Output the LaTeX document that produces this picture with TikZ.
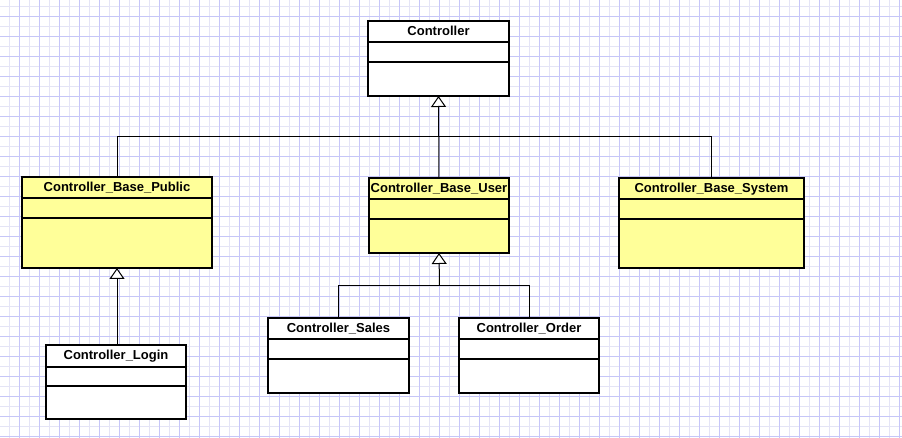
\documentclass[tikz,border=0pt]{standalone}
\usepackage{fontspec}
\setmainfont{Liberation Sans}
\usepackage{tikz}
\usetikzlibrary{arrows.meta}

\definecolor{gridlight}{RGB}{228,228,246}
\definecolor{griddark}{RGB}{198,198,248}
\definecolor{classyellow}{RGB}{255,255,153}

\begin{document}
\begin{tikzpicture}[
		x=1pt, y=1pt
		,thin grid/.style={gridlight, line width=1pt}
		,thick grid/.style={griddark, line width=1pt}
		,cls/.style={draw, line width=2pt, fill=white, anchor=north west, outer sep=0pt, inner sep=0pt}
		,yel/.style={fill=classyellow}
		,title/.style={anchor=base, yshift=-14.5pt, inner sep=0pt, font=\fontsize{13}{15}\selectfont\bfseries}
		,sep/.style={line width=2pt}
		,line/.style={line width=1pt}
		,gen/.style={line width=1pt, -{Triangle[length=11pt, width=15pt, fill=white]}}
	]
	\useasboundingbox (0,0) rectangle (902,-438);
	\fill[white] (0,0) rectangle (902,-438);
	% grid
	\foreach \x in {9.5,29.5,...,902} \draw[thin grid] (\x,0) -- (\x,-438);
	\foreach \y in {6.5,26.5,...,438} \draw[thin grid] (0,-\y) -- (902,-\y);
	\foreach \x in {19.5,39.5,...,902} \draw[thick grid] (\x,0) -- (\x,-438);
	\foreach \y in {16.5,36.5,...,438} \draw[thick grid] (0,-\y) -- (902,-\y);

	% classes
	\node [cls, minimum width=141, minimum height=75, label={[title]north:Controller}] (ctrl) at (368,-21) {};
	\draw [sep] (368,-42) -- ++(141,0) (368,-62) -- ++(141,0);

	\node [cls, yel, minimum width=190, minimum height=91, label={[title]north:Controller\_Base\_Public}] (pub) at (22,-177) {};
	\draw [sep] (22,-198) -- ++(190,0) (22,-218) -- ++(190,0);

	\node [cls, yel, minimum width=140, minimum height=75, label={[title]north:Controller\_Base\_User}] (user) at (369,-178) {};
	\draw [sep] (369,-199) -- ++(140,0) (369,-219) -- ++(140,0);

	\node [cls, yel, minimum width=185, minimum height=90, label={[title]north:Controller\_Base\_System}] (sys) at (619,-178) {};
	\draw [sep] (619,-199) -- ++(185,0) (619,-219) -- ++(185,0);

	\node [cls, minimum width=141, minimum height=75, label={[title]north:Controller\_Sales}] (sales) at (268,-318) {};
	\draw [sep] (268,-339) -- ++(141,0) (268,-359) -- ++(141,0);

	\node [cls, minimum width=140, minimum height=75, label={[title]north:Controller\_Order}] (order) at (459,-318) {};
	\draw [sep] (459,-339) -- ++(140,0) (459,-359) -- ++(140,0);

	\node [cls, minimum width=140, minimum height=74, label={[title]north:Controller\_Login}] (login) at (46,-345) {};
	\draw [sep] (46,-367) -- ++(140,0) (46,-386) -- ++(140,0);

	% inheritance
	\coordinate (up) at (439.5,-136.5);
	\coordinate (down) at (439.5,-285.5);
	\draw [line] (pub.north) |- (up) -| (sys.north);
	\draw [gen] (user.north) -- (ctrl.south);
	\draw [line] (sales.north) |- (down) -| (order.north);
	\draw [gen] (down) -- (user.south);
	\draw [gen] (pub.south |- login.north) -- (pub.south);
\end{tikzpicture}
\end{document}
